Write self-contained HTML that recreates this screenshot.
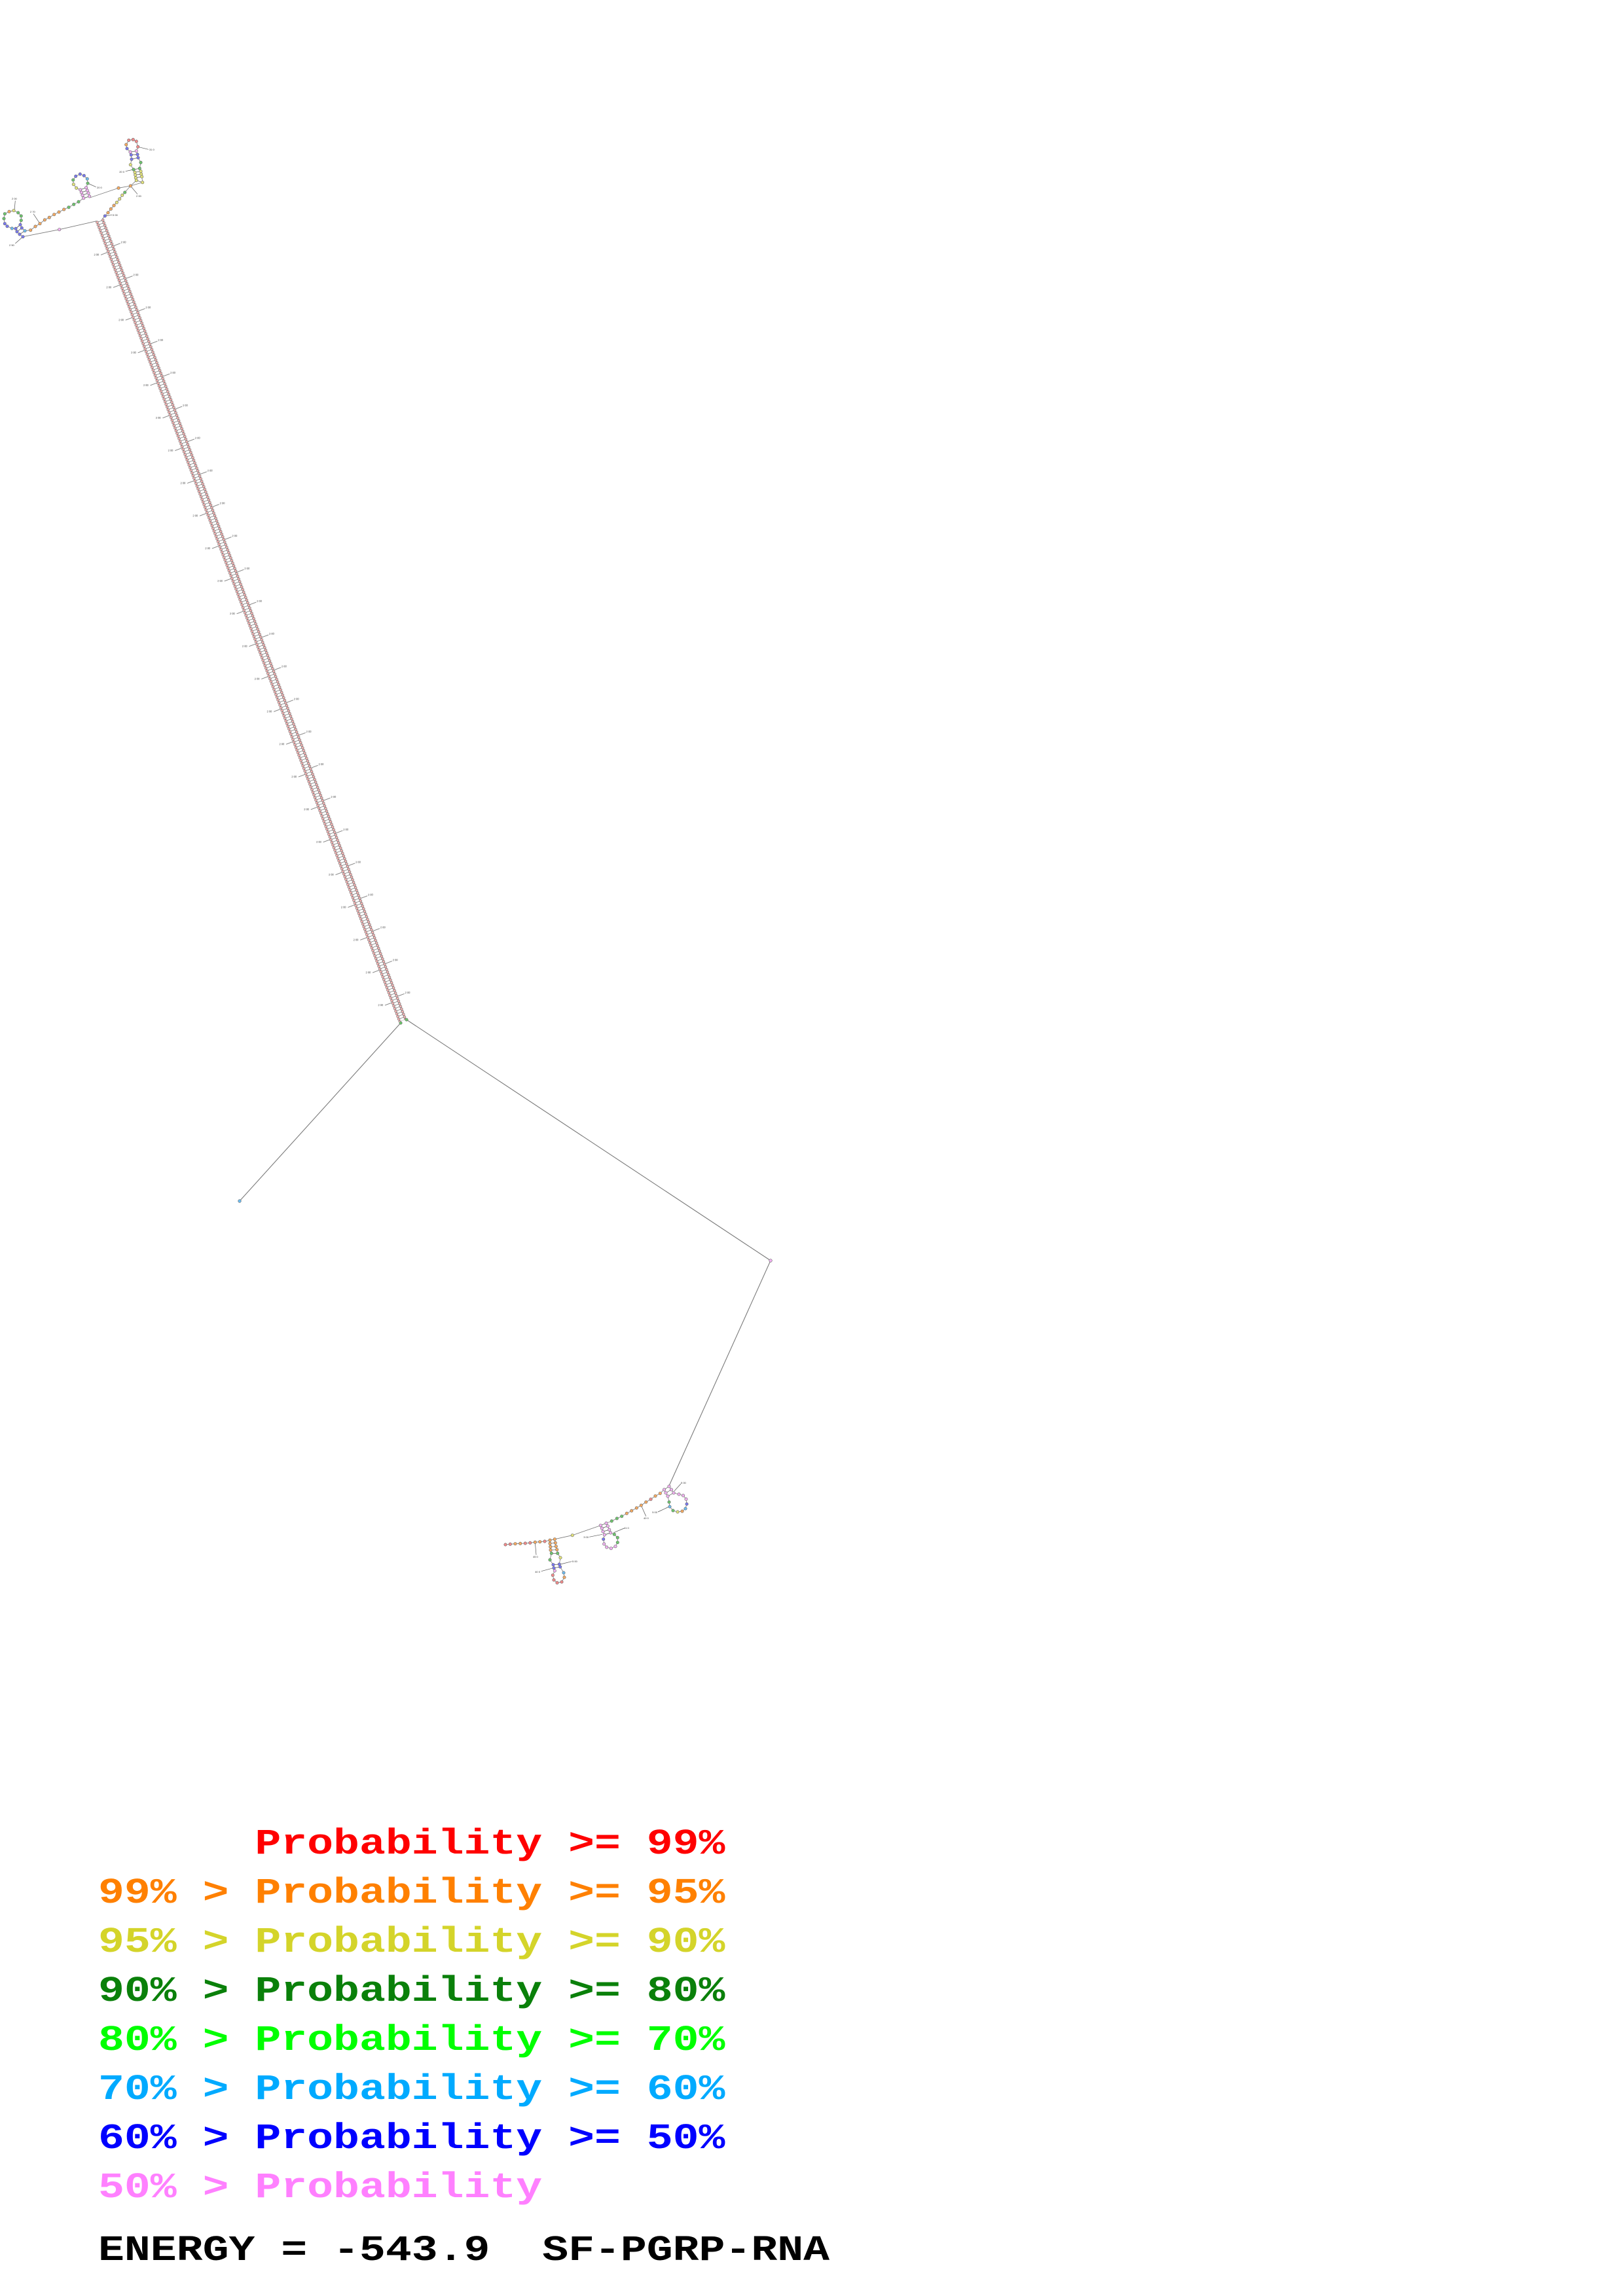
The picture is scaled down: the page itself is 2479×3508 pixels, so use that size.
<!DOCTYPE html>
<html>
<head>
<meta charset="utf-8">
<style>
html,body{margin:0;padding:0;background:#fff;}
svg{display:block;}
circle{stroke:#666;stroke-width:0.6;}
.r{fill:#f38a8a}.o{fill:#f6aa60}.y{fill:#e2e27a}.g{fill:#6cc66c}.b{fill:#7878f0}.l{fill:#6cbcf0}.p{fill:#f2b2f2}
.bb{fill:none;stroke:#777;stroke-width:0.8}
.rung{stroke:#444;stroke-width:0.7}
.tk{stroke:#555;stroke-width:0.7}
.lb{font-family:"Liberation Sans",sans-serif;font-size:4px;fill:#333}
.ln{stroke:#7a7a7a;stroke-width:1.1;fill:none}
.lg{font-family:"Liberation Mono",monospace;font-weight:bold;font-size:66.5px;white-space:pre}
</style>
</head>
<body>
<svg width="2479" height="3508" viewBox="0 0 2479 3508" xmlns="http://www.w3.org/2000/svg">
<defs>
<pattern id="hp" patternUnits="userSpaceOnUse" x="0" y="-7" width="4.31" height="14">
<line x1="0" y1="2.3" x2="4.31" y2="2.3" stroke="#888" stroke-width="0.6"/>
<line x1="0" y1="11.7" x2="4.31" y2="11.7" stroke="#888" stroke-width="0.6"/>
<line x1="2.15" y1="2.3" x2="2.15" y2="11.7" stroke="#555" stroke-width="0.6"/>
<circle cx="2.15" cy="2.3" r="1.9" fill="#f7b4b4" stroke="#888" stroke-width="0.5"/>
<circle cx="2.15" cy="11.7" r="1.9" fill="#f7b4b4" stroke="#888" stroke-width="0.5"/>
</pattern>
<pattern id="tp" patternUnits="userSpaceOnUse" x="24.7" y="-35" width="53.3" height="70">
<line x1="20" y1="28.5" x2="20" y2="18" stroke="#555" stroke-width="0.7"/>
<text x="20" y="17" class="lb" transform="rotate(-69.27 20 17)">2 00</text>
<line x1="26" y1="41.5" x2="26" y2="52" stroke="#555" stroke-width="0.7"/>
<text x="26" y="55" class="lb" text-anchor="end" transform="rotate(-69.27 26 55)">2 00</text>
</pattern>
</defs>

<!-- long connector lines -->
<polyline class="ln" points="612,1563 366,1835"/>
<polyline class="ln" points="621,1558 1177,1926 1022,2270"/>
<circle cx="366" cy="1835" r="2.3" class="l"/>
<circle cx="1177" cy="1926" r="2.3" class="p"/>

<!-- helix -->
<g transform="translate(152 336) rotate(69.27)">
<rect x="24.7" y="-35" width="1273" height="70" fill="url(#tp)"/>
<rect x="0" y="-7" width="1308" height="14" fill="url(#hp)"/>
</g>
<circle cx="612" cy="1563" r="2.2" class="g"/>
<circle cx="621" cy="1558" r="2.2" class="g"/>

<!-- ===== TOP CLUSTER ===== -->
<polyline class="bb" points="199.3,284 208.3,275.7 207.3,271.7 206.7,267.3 206,263.3 204,259 199.3,251.7 201,243.3 200.3,236.7 199,232.3 194,227 192.7,221 196.7,214.3 203.3,213.3 208.3,216 210.7,224.3 208.3,230.7 210,236 211,241 215,248.3 213.3,257.3 215,261.7 215.7,266 216.7,270 217.7,278.7 199.3,284"/>
<polyline class="bb" points="199.3,284 181,287.3 138.3,301.7 136.7,300 135,295 133.3,291 131.7,286.7 134,280 133.3,273.3 128.3,268.3 122.3,266 115.7,269.3 111.7,275 112.3,281.7 116.7,287.3 122.7,290 124.3,294 126,298.3 127.7,302.7 120,308.3 112.7,312.3 105,316.7 97.7,320 90,324 82.7,327.7 75.3,332.3 68.3,336 61,341.7 54,346 46.7,351.7 38,352.7 33.3,348.3 31,343.3 32.3,336.7 32.3,330 27.7,325 21,321.7 14,323.3 7.3,326.7 6,334 7.3,341.7 11,345.7 18.3,349 24,349.3 26,354 30,358 35,361.7 90.7,350.7 147.6,337.7"/>
<polyline class="bb" points="199.3,284 190.7,294 186.7,298.3 182.7,304 178.3,309.3 174,314 169.3,319.3 165,325 160.3,330 156.4,334.3"/>
<line class="rung" x1="199" y1="232.3" x2="208.3" y2="230.7"/>
<line class="rung" x1="200.3" y1="236.7" x2="210" y2="236"/>
<line class="rung" x1="201" y1="243.3" x2="211" y2="241"/>
<line class="rung" x1="204" y1="259" x2="213.3" y2="257.3"/>
<line class="rung" x1="206" y1="263.3" x2="215" y2="261.7"/>
<line class="rung" x1="206.7" y1="267.3" x2="215.7" y2="266"/>
<line class="rung" x1="207.3" y1="271.7" x2="216.7" y2="270"/>
<line class="rung" x1="208.3" y1="275.7" x2="217.7" y2="278.7"/>
<line class="rung" x1="122.7" y1="290" x2="131.7" y2="286.7"/>
<line class="rung" x1="124.3" y1="294" x2="133.3" y2="291"/>
<line class="rung" x1="126" y1="298.3" x2="135" y2="295"/>
<line class="rung" x1="127.7" y1="302.7" x2="136.7" y2="300"/>
<line class="rung" x1="24" y1="349.3" x2="31" y2="343.3"/>
<line class="rung" x1="26" y1="354" x2="33.3" y2="348.3"/>
<line class="rung" x1="30" y1="358" x2="38" y2="352.7"/>
<line class="tk" x1="210.7" y1="224.3" x2="226.7" y2="228.3"/><text class="lb" x="228" y="230">31 0</text>
<line class="tk" x1="191.7" y1="261.7" x2="204" y2="259"/><text class="lb" x="190" y="264" text-anchor="end">20 0</text>
<line class="tk" x1="199.3" y1="284" x2="210" y2="296.7"/><text class="lb" x="208" y="301">2 00</text>
<line class="tk" x1="134" y1="280" x2="146.7" y2="285.7"/><text class="lb" x="148" y="288">20 0</text>
<line class="tk" x1="160.3" y1="330" x2="171.7" y2="328.3"/><text class="lb" x="172" y="330">3 00</text>
<line class="tk" x1="61" y1="341.7" x2="51" y2="326.7"/><text class="lb" x="46" y="325">2 70</text>
<line class="tk" x1="22" y1="321.7" x2="23.3" y2="306.7"/><text class="lb" x="18" y="305">2 00</text>
<line class="tk" x1="35" y1="361.7" x2="23.3" y2="372"/><text class="lb" x="14" y="376">2 50</text>
<circle cx="194" cy="227" r="2.2" class="b"/>
<circle cx="192.7" cy="221" r="2.2" class="o"/>
<circle cx="196.7" cy="214.3" r="2.2" class="r"/>
<circle cx="203.3" cy="213.3" r="2.2" class="r"/>
<circle cx="208.3" cy="216" r="2.2" class="r"/>
<circle cx="210.7" cy="224.3" r="2.2" class="r"/>
<circle cx="199" cy="232.3" r="2.2" class="p"/><circle cx="208.3" cy="230.7" r="2.2" class="p"/>
<circle cx="200.3" cy="236.7" r="2.2" class="b"/><circle cx="210" cy="236" r="2.2" class="b"/>
<circle cx="201" cy="243.3" r="2.2" class="b"/><circle cx="211" cy="241" r="2.2" class="b"/>
<circle cx="199.3" cy="251.7" r="2.2" class="y"/><circle cx="215" cy="248.3" r="2.2" class="g"/>
<circle cx="204" cy="259" r="2.2" class="g"/><circle cx="213.3" cy="257.3" r="2.2" class="g"/>
<circle cx="206" cy="263.3" r="2.2" class="y"/><circle cx="215" cy="261.7" r="2.2" class="y"/>
<circle cx="206.7" cy="267.3" r="2.2" class="y"/><circle cx="215.7" cy="266" r="2.2" class="y"/>
<circle cx="207.3" cy="271.7" r="2.2" class="y"/><circle cx="216.7" cy="270" r="2.2" class="y"/>
<circle cx="208.3" cy="275.7" r="2.2" class="y"/><circle cx="217.7" cy="278.7" r="2.2" class="y"/>
<circle cx="199.3" cy="284" r="2.2" class="o"/>
<circle cx="181" cy="287.3" r="2.2" class="o"/>
<circle cx="190.7" cy="294" r="2.2" class="g"/>
<circle cx="186.7" cy="298.3" r="2.2" class="y"/>
<circle cx="182.7" cy="304" r="2.2" class="y"/>
<circle cx="178.3" cy="309.3" r="2.2" class="y"/>
<circle cx="174" cy="314" r="2.2" class="o"/>
<circle cx="169.3" cy="319.3" r="2.2" class="o"/>
<circle cx="165" cy="325" r="2.2" class="o"/>
<circle cx="160.3" cy="330" r="2.2" class="b"/>
<circle cx="134" cy="280" r="2.2" class="g"/>
<circle cx="133.3" cy="273.3" r="2.2" class="l"/>
<circle cx="128.3" cy="268.3" r="2.2" class="b"/>
<circle cx="122.3" cy="266" r="2.2" class="b"/>
<circle cx="115.7" cy="269.3" r="2.2" class="b"/>
<circle cx="111.7" cy="275" r="2.2" class="g"/>
<circle cx="112.3" cy="281.7" r="2.2" class="y"/>
<circle cx="116.7" cy="287.3" r="2.2" class="y"/>
<circle cx="122.7" cy="290" r="2.2" class="p"/><circle cx="131.7" cy="286.7" r="2.2" class="p"/>
<circle cx="124.3" cy="294" r="2.2" class="p"/><circle cx="133.3" cy="291" r="2.2" class="p"/>
<circle cx="126" cy="298.3" r="2.2" class="p"/><circle cx="135" cy="295" r="2.2" class="p"/>
<circle cx="127.7" cy="302.7" r="2.2" class="p"/><circle cx="136.7" cy="300" r="2.2" class="p"/>
<circle cx="120" cy="308.3" r="2.2" class="g"/>
<circle cx="112.7" cy="312.3" r="2.2" class="g"/>
<circle cx="105" cy="316.7" r="2.2" class="g"/>
<circle cx="97.7" cy="320" r="2.2" class="o"/>
<circle cx="90" cy="324" r="2.2" class="o"/>
<circle cx="82.7" cy="327.7" r="2.2" class="o"/>
<circle cx="75.3" cy="332.3" r="2.2" class="o"/>
<circle cx="68.3" cy="336" r="2.2" class="o"/>
<circle cx="61" cy="341.7" r="2.2" class="o"/>
<circle cx="54" cy="346" r="2.2" class="o"/>
<circle cx="46.7" cy="351.7" r="2.2" class="o"/>
<circle cx="38" cy="352.7" r="2.2" class="l"/><circle cx="30" cy="358" r="2.2" class="b"/>
<circle cx="33.3" cy="348.3" r="2.2" class="b"/><circle cx="26" cy="354" r="2.2" class="b"/>
<circle cx="31" cy="343.3" r="2.2" class="b"/><circle cx="24" cy="349.3" r="2.2" class="b"/>
<circle cx="32.3" cy="336.7" r="2.2" class="g"/>
<circle cx="32.3" cy="330" r="2.2" class="g"/>
<circle cx="27.7" cy="325" r="2.2" class="g"/>
<circle cx="21" cy="321.7" r="2.2" class="y"/>
<circle cx="14" cy="323.3" r="2.2" class="o"/>
<circle cx="7.3" cy="326.7" r="2.2" class="g"/>
<circle cx="6" cy="334" r="2.2" class="g"/>
<circle cx="7.3" cy="341.7" r="2.2" class="b"/>
<circle cx="11" cy="345.7" r="2.2" class="b"/>
<circle cx="18.3" cy="349" r="2.2" class="l"/>
<circle cx="35" cy="361.7" r="2.2" class="b"/>
<circle cx="90.7" cy="350.7" r="2.2" class="p"/>

<!-- ===== BOTTOM CLUSTER ===== -->
<polyline class="bb" points="1022,2271 1025.5,2276 1029,2281 1037,2283 1043.5,2285 1048,2290.5 1049,2298 1047,2305 1042,2309 1035,2310 1028,2308 1023,2302 1022,2295 1020,2286 1017,2281 1014.5,2276 1008.3,2281.7 1001,2285.7 994,2290.7 986.7,2295 979.3,2300 972.3,2304 964.7,2308.3 957.3,2312.3 949.7,2316.7 942.3,2320 934.3,2324 926,2327.3 928.3,2331.7 930.7,2337.3 932.7,2342 938.3,2344.3 943.3,2349.3 943.3,2356.7 940,2362.7 933.3,2365.7 926.7,2364 922.7,2359 921.7,2351.7 923.3,2345 921,2340 919.3,2335 917.3,2330.7 874.3,2345.7 847.3,2351.7 848.3,2357.3 849.3,2362.7 850.7,2367.7 851.7,2373.3 856,2380 854.3,2390 855.7,2394 861,2403 862,2410 858,2417 851,2418.3 846,2414 844.3,2406.7 847.3,2400 846,2395.7 845,2390.7 840,2383.3 842.3,2373.3 841,2368.3 840.7,2363.3 840,2358.3 840,2353.3 832,2355 824.7,2355.7 817.3,2356.3 809.7,2357.3 802.3,2358 794.7,2358.3 787,2358.7 779.3,2359.3 772,2360"/>
<line class="rung" x1="1014.5" y1="2276" x2="1022" y2="2271"/>
<line class="rung" x1="1017" y1="2281" x2="1025.5" y2="2276"/>
<line class="rung" x1="1020" y1="2286" x2="1029" y2="2281"/>
<line class="rung" x1="917.3" y1="2330.7" x2="926" y2="2327.3"/>
<line class="rung" x1="919.3" y1="2335" x2="928.3" y2="2331.7"/>
<line class="rung" x1="921" y1="2340" x2="930.7" y2="2337.3"/>
<line class="rung" x1="923.3" y1="2345" x2="932.7" y2="2342"/>
<line class="rung" x1="840" y1="2353.3" x2="847.3" y2="2351.7"/>
<line class="rung" x1="840" y1="2358.3" x2="848.3" y2="2357.3"/>
<line class="rung" x1="840.7" y1="2363.3" x2="849.3" y2="2362.7"/>
<line class="rung" x1="841" y1="2368.3" x2="850.7" y2="2367.7"/>
<line class="rung" x1="842.3" y1="2373.3" x2="851.7" y2="2373.3"/>
<line class="rung" x1="845" y1="2390.7" x2="854.3" y2="2390"/>
<line class="rung" x1="846" y1="2395.7" x2="855.7" y2="2394"/>
<line class="tk" x1="1030" y1="2278" x2="1040" y2="2267"/><text class="lb" x="1040" y="2267">5 00</text>
<line class="tk" x1="1022" y1="2302" x2="1005" y2="2310"/><text class="lb" x="1004" y="2312" text-anchor="end">5 00</text>
<line class="tk" x1="979.3" y1="2300" x2="986.7" y2="2316.7"/><text class="lb" x="983" y="2321">40 0</text>
<line class="tk" x1="937.3" y1="2341.7" x2="953.3" y2="2335"/><text class="lb" x="953" y="2336">41 0</text>
<line class="tk" x1="920" y1="2344.3" x2="900" y2="2348.3"/><text class="lb" x="899" y="2350" text-anchor="end">3 00</text>
<line class="tk" x1="856" y1="2390" x2="873.3" y2="2385.7"/><text class="lb" x="874" y="2387">5 00</text>
<line class="tk" x1="845" y1="2395.7" x2="826.7" y2="2400.7"/><text class="lb" x="825" y="2403" text-anchor="end">40 0</text>
<line class="tk" x1="817.3" y1="2356.3" x2="819" y2="2375.7"/><text class="lb" x="814" y="2380">45 0</text>
<circle cx="1022" cy="2271" r="2.2" class="p"/><circle cx="1014.5" cy="2276" r="2.2" class="p"/>
<circle cx="1025.5" cy="2276" r="2.2" class="p"/><circle cx="1017" cy="2281" r="2.2" class="p"/>
<circle cx="1029" cy="2281" r="2.2" class="p"/><circle cx="1020" cy="2286" r="2.2" class="p"/>
<circle cx="1037" cy="2283" r="2.2" class="p"/>
<circle cx="1043.5" cy="2285" r="2.2" class="p"/>
<circle cx="1048" cy="2290.5" r="2.2" class="p"/>
<circle cx="1049" cy="2298" r="2.2" class="b"/>
<circle cx="1047" cy="2305" r="2.2" class="l"/>
<circle cx="1042" cy="2309" r="2.2" class="o"/>
<circle cx="1035" cy="2310" r="2.2" class="y"/>
<circle cx="1028" cy="2308" r="2.2" class="g"/>
<circle cx="1023" cy="2302" r="2.2" class="l"/>
<circle cx="1022" cy="2295" r="2.2" class="g"/>
<circle cx="1008.3" cy="2281.7" r="2.2" class="o"/>
<circle cx="1001" cy="2285.7" r="2.2" class="o"/>
<circle cx="994" cy="2290.7" r="2.2" class="r"/>
<circle cx="986.7" cy="2295" r="2.2" class="o"/>
<circle cx="979.3" cy="2300" r="2.2" class="o"/>
<circle cx="972.3" cy="2304" r="2.2" class="o"/>
<circle cx="964.7" cy="2308.3" r="2.2" class="o"/>
<circle cx="957.3" cy="2312.3" r="2.2" class="o"/>
<circle cx="949.7" cy="2316.7" r="2.2" class="g"/>
<circle cx="942.3" cy="2320" r="2.2" class="g"/>
<circle cx="934.3" cy="2324" r="2.2" class="g"/>
<circle cx="917.3" cy="2330.7" r="2.2" class="p"/><circle cx="926" cy="2327.3" r="2.2" class="p"/>
<circle cx="919.3" cy="2335" r="2.2" class="p"/><circle cx="928.3" cy="2331.7" r="2.2" class="p"/>
<circle cx="921" cy="2340" r="2.2" class="p"/><circle cx="930.7" cy="2337.3" r="2.2" class="p"/>
<circle cx="923.3" cy="2345" r="2.2" class="p"/><circle cx="932.7" cy="2342" r="2.2" class="p"/>
<circle cx="938.3" cy="2344.3" r="2.2" class="g"/>
<circle cx="943.3" cy="2349.3" r="2.2" class="g"/>
<circle cx="943.3" cy="2356.7" r="2.2" class="g"/>
<circle cx="940" cy="2362.7" r="2.2" class="p"/>
<circle cx="933.3" cy="2365.7" r="2.2" class="p"/>
<circle cx="926.7" cy="2364" r="2.2" class="p"/>
<circle cx="922.7" cy="2359" r="2.2" class="p"/>
<circle cx="921.7" cy="2351.7" r="2.2" class="b"/>
<circle cx="874.3" cy="2345.7" r="2.2" class="y"/>
<circle cx="840" cy="2353.3" r="2.2" class="o"/><circle cx="847.3" cy="2351.7" r="2.2" class="o"/>
<circle cx="840" cy="2358.3" r="2.2" class="o"/><circle cx="848.3" cy="2357.3" r="2.2" class="o"/>
<circle cx="840.7" cy="2363.3" r="2.2" class="o"/><circle cx="849.3" cy="2362.7" r="2.2" class="o"/>
<circle cx="841" cy="2368.3" r="2.2" class="o"/><circle cx="850.7" cy="2367.7" r="2.2" class="o"/>
<circle cx="842.3" cy="2373.3" r="2.2" class="g"/><circle cx="851.7" cy="2373.3" r="2.2" class="g"/>
<circle cx="840" cy="2383.3" r="2.2" class="g"/><circle cx="856" cy="2380" r="2.2" class="y"/>
<circle cx="845" cy="2390.7" r="2.2" class="b"/><circle cx="854.3" cy="2390" r="2.2" class="b"/>
<circle cx="846" cy="2395.7" r="2.2" class="b"/><circle cx="855.7" cy="2394" r="2.2" class="b"/>
<circle cx="861" cy="2403" r="2.2" class="l"/>
<circle cx="862" cy="2410" r="2.2" class="o"/>
<circle cx="858" cy="2417" r="2.2" class="r"/>
<circle cx="851" cy="2418.3" r="2.2" class="r"/>
<circle cx="846" cy="2414" r="2.2" class="r"/>
<circle cx="844.3" cy="2406.7" r="2.2" class="r"/>
<circle cx="847.3" cy="2400" r="2.2" class="p"/>
<circle cx="832" cy="2355" r="2.2" class="r"/>
<circle cx="824.7" cy="2355.7" r="2.2" class="o"/>
<circle cx="817.3" cy="2356.3" r="2.2" class="o"/>
<circle cx="809.7" cy="2357.3" r="2.2" class="r"/>
<circle cx="802.3" cy="2358" r="2.2" class="r"/>
<circle cx="794.7" cy="2358.3" r="2.2" class="o"/>
<circle cx="787" cy="2358.7" r="2.2" class="o"/>
<circle cx="779.3" cy="2359.3" r="2.2" class="r"/>
<circle cx="772" cy="2360" r="2.2" class="r"/>

<!-- ===== LEGEND ===== -->
<text class="lg" fill="#ff0000" transform="translate(150 2832) scale(1 0.827)" xml:space="preserve">      Probability &gt;= 99%</text>
<text class="lg" fill="#ff8000" transform="translate(150 2907) scale(1 0.827)" xml:space="preserve">99% &gt; Probability &gt;= 95%</text>
<text class="lg" fill="#d4d42a" transform="translate(150 2982) scale(1 0.827)" xml:space="preserve">95% &gt; Probability &gt;= 90%</text>
<text class="lg" fill="#0a800a" transform="translate(150 3057) scale(1 0.827)" xml:space="preserve">90% &gt; Probability &gt;= 80%</text>
<text class="lg" fill="#00ff00" transform="translate(150 3132) scale(1 0.827)" xml:space="preserve">80% &gt; Probability &gt;= 70%</text>
<text class="lg" fill="#00aaff" transform="translate(150 3207) scale(1 0.827)" xml:space="preserve">70% &gt; Probability &gt;= 60%</text>
<text class="lg" fill="#0000ff" transform="translate(150 3282) scale(1 0.827)" xml:space="preserve">60% &gt; Probability &gt;= 50%</text>
<text class="lg" fill="#ff80ff" transform="translate(150 3357) scale(1 0.827)" xml:space="preserve">50% &gt; Probability</text>
<text class="lg" fill="#000000" transform="translate(150 3453) scale(1 0.827)" xml:space="preserve">ENERGY = -543.9  SF-PGRP-RNA</text>
</svg>
</body>
</html>
